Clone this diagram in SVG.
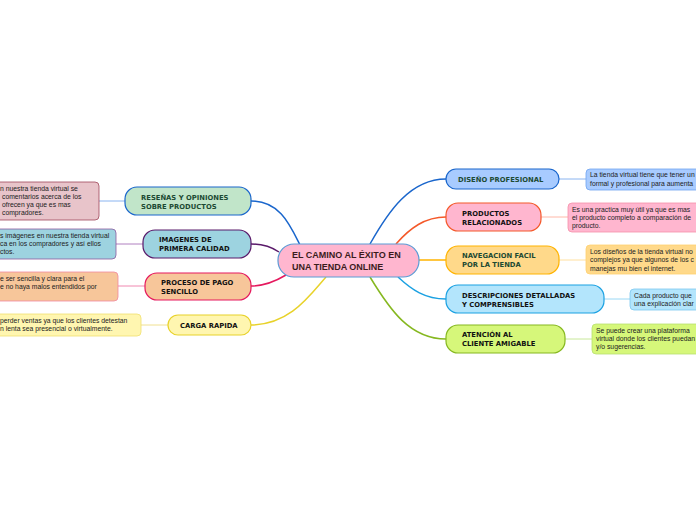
<svg xmlns="http://www.w3.org/2000/svg" width="696" height="520" viewBox="0 0 696 520">
<style>
.bg{fill:#ffffff}
.main{font-family:"Liberation Sans",Arial,sans-serif;font-weight:bold;font-size:9px;fill:#3b1c1c}
.nt{font-family:"DejaVu Sans",Verdana,sans-serif;font-weight:bold;font-size:6.8px;fill:#111}
.ng{fill:#1c4a33}
.tt{font-family:"Liberation Sans",Arial,sans-serif;font-size:6.8px;fill:#222}
.node{stroke-width:1.2}
.box{stroke-width:0.8}
.c{fill:none;stroke-width:1.5}
.l{fill:none;stroke-width:1}
</style>
<rect class="bg" x="0" y="0" width="696" height="520"/>
<g id="connectors">
<path class="c" stroke="#1a66cc" d="M370,244 C388,212 410,179 446,179"/>
<path class="c" stroke="#f4592a" d="M396,244 C410,228 425,217 446,217"/>
<path class="c" stroke="#ffb300" d="M419,260 C430,260 436,260 446,260"/>
<path class="c" stroke="#1ba1e2" d="M398,277 C412,290 425,299 446,299"/>
<path class="c" stroke="#86b820" d="M370,277 C390,310 410,339 446,339"/>
<path class="c" stroke="#1a66cc" d="M251,201 C280,201 290,225 300,245"/>
<path class="c" stroke="#5a1a6a" d="M251,244 C262,244 270,246 279,252"/>
<path class="c" stroke="#e5195e" d="M251,286 C265,286 276,281 286,275"/>
<path class="c" stroke="#e8d22a" d="M251,325 C290,325 310,295 326,277"/>
<path class="l" stroke="#8ab4f0" d="M559,179 L586,179"/>
<path class="l" stroke="#ffb8a8" d="M541,217 L568,217"/>
<path class="l" stroke="#ffe0a0" d="M559,260 L586,260"/>
<path class="l" stroke="#9ad8f5" d="M604,299 L630,299"/>
<path class="l" stroke="#c8e89a" d="M565,339 L592,339"/>
<path class="l" stroke="#8ab4f0" d="M99,201 L125,201"/>
<path class="l" stroke="#b080c0" d="M116,244 L143,244"/>
<path class="l" stroke="#f088b0" d="M118,286 L145,286"/>
<path class="l" stroke="#f0e090" d="M141,325 L168,325"/>
</g>
<g id="central">
<rect class="node" x="278" y="244" width="141" height="33" rx="16" fill="#ffb6cf" stroke="#5b9bd5"/>
<text class="main" x="292" y="258">EL CAMINO AL ÉXITO EN</text>
<text class="main" x="292" y="270">UNA TIENDA ONLINE</text>
</g>
<g id="n-diseno">
<rect class="node" x="446" y="169" width="113" height="20" rx="10" fill="#a8cbff" stroke="#1a66cc"/>
<text class="nt ng" x="458" y="182">DISEÑO PROFESIONAL</text>
</g>
<g id="t-diseno">
<rect class="box" x="586" y="169" width="120" height="21" rx="4" fill="#a8cbff" stroke="#6ea3f0"/>
<text class="tt" x="590" y="177">La tienda virtual tiene que tener un</text>
<text class="tt" x="590" y="186">formal y profesional para aumenta</text>
</g>
<g id="n-productos">
<rect class="node" x="446" y="203" width="95" height="28" rx="12" fill="#ffb6cf" stroke="#f4592a"/>
<text class="nt" x="462" y="216">PRODUCTOS</text>
<text class="nt" x="462" y="224.5">RELACIONADOS</text>
</g>
<g id="t-productos">
<rect class="box" x="568" y="203" width="140" height="29" rx="4" fill="#ffb6cf" stroke="#f590a8"/>
<text class="tt" x="572" y="212">Es una practica muy útil ya que es mas</text>
<text class="tt" x="572" y="220">el producto completo a comparación de</text>
<text class="tt" x="572" y="228">producto.</text>
</g>
<g id="n-navegacion">
<rect class="node" x="446" y="246" width="113" height="28" rx="12" fill="#ffd98a" stroke="#ffb300"/>
<text class="nt ng" x="462" y="258">NAVEGACION FACIL</text>
<text class="nt ng" x="462" y="267">POR LA TIENDA</text>
</g>
<g id="t-navegacion">
<rect class="box" x="586" y="245" width="120" height="29" rx="4" fill="#ffd98a" stroke="#ffd070"/>
<text class="tt" x="590" y="254">Los diseños de la tienda virtual no</text>
<text class="tt" x="590" y="262">complejos ya que algunos de los c</text>
<text class="tt" x="590" y="271">manejas mu bien el internet.</text>
</g>
<g id="n-descripciones">
<rect class="node" x="446" y="285" width="158" height="28" rx="12" fill="#b3e5fc" stroke="#1ba1e2"/>
<text class="nt" x="462" y="298">DESCRIPCIONES DETALLADAS</text>
<text class="nt" x="462" y="306.5">Y COMPRENSIBLES</text>
</g>
<g id="t-descripciones">
<rect class="box" x="630" y="289" width="80" height="21" rx="4" fill="#b3e5fc" stroke="#7cc8f0"/>
<text class="tt" x="634" y="298">Cada producto que</text>
<text class="tt" x="634" y="306">una explicación clar</text>
</g>
<g id="n-atencion">
<rect class="node" x="446" y="325" width="119" height="28" rx="12" fill="#d6f77a" stroke="#86b820"/>
<text class="nt" x="462" y="337">ATENCIÓN AL</text>
<text class="nt" x="462" y="346">CLIENTE AMIGABLE</text>
</g>
<g id="t-atencion">
<rect class="box" x="592" y="324" width="120" height="30" rx="4" fill="#d6f77a" stroke="#b8e070"/>
<text class="tt" x="596" y="333">Se puede crear una plataforma</text>
<text class="tt" x="596" y="341">virtual donde los clientes puedan</text>
<text class="tt" x="596" y="349">y/o sugerencias.</text>
</g>
<g id="n-resenas">
<rect class="node" x="125" y="187" width="126" height="28" rx="12" fill="#c1e5c9" stroke="#1a66cc"/>
<text class="nt ng" x="141" y="200">RESEÑAS Y OPINIONES</text>
<text class="nt ng" x="141" y="208.5">SOBRE PRODUCTOS</text>
</g>
<g id="t-resenas">
<rect class="box" x="-10" y="182" width="109" height="38" rx="4" fill="#e8c4ca" stroke="#a0485a"/>
<text class="tt" x="0" y="190.5">n nuestra tienda virtual se</text>
<text class="tt" x="2" y="198.5">comentarios acerca de los</text>
<text class="tt" x="2" y="206.5">ofrecen ya que es mas</text>
<text class="tt" x="2" y="214.5">compradores.</text>
</g>
<g id="n-imagenes">
<rect class="node" x="143" y="230" width="108" height="28" rx="12" fill="#9dd3e0" stroke="#5a1a6a"/>
<text class="nt" x="159" y="242">IMAGENES DE</text>
<text class="nt" x="159" y="251">PRIMERA CALIDAD</text>
</g>
<g id="t-imagenes">
<rect class="box" x="-10" y="229" width="126" height="30" rx="4" fill="#9dd3e0" stroke="#8a5aa0"/>
<text class="tt" x="0" y="238">s imágenes en nuestra tienda virtual</text>
<text class="tt" x="0" y="246">ca en los compradores y así ellos</text>
<text class="tt" x="0" y="254">ctos.</text>
</g>
<g id="n-proceso">
<rect class="node" x="145" y="273" width="106" height="27" rx="12" fill="#f7c69a" stroke="#e5195e"/>
<text class="nt" x="161" y="285">PROCESO DE PAGO</text>
<text class="nt" x="161" y="293.5">SENCILLO</text>
</g>
<g id="t-proceso">
<rect class="box" x="-10" y="272" width="128" height="29" rx="4" fill="#f7c69a" stroke="#f088a0"/>
<text class="tt" x="0" y="281">e ser sencilla y clara para el</text>
<text class="tt" x="0" y="289">e no haya malos entendidos por</text>
</g>
<g id="n-carga">
<rect class="node" x="168" y="315" width="83" height="20" rx="10" fill="#fff6b0" stroke="#e8d22a"/>
<text class="nt" x="180" y="328">CARGA RAPIDA</text>
</g>
<g id="t-carga">
<rect class="box" x="-10" y="314" width="151" height="22" rx="4" fill="#fff6b0" stroke="#f0e070"/>
<text class="tt" x="0" y="323">perder ventas ya que los clientes detestan</text>
<text class="tt" x="0" y="331">n lenta sea presencial o virtualmente.</text>
</g>
</svg>
